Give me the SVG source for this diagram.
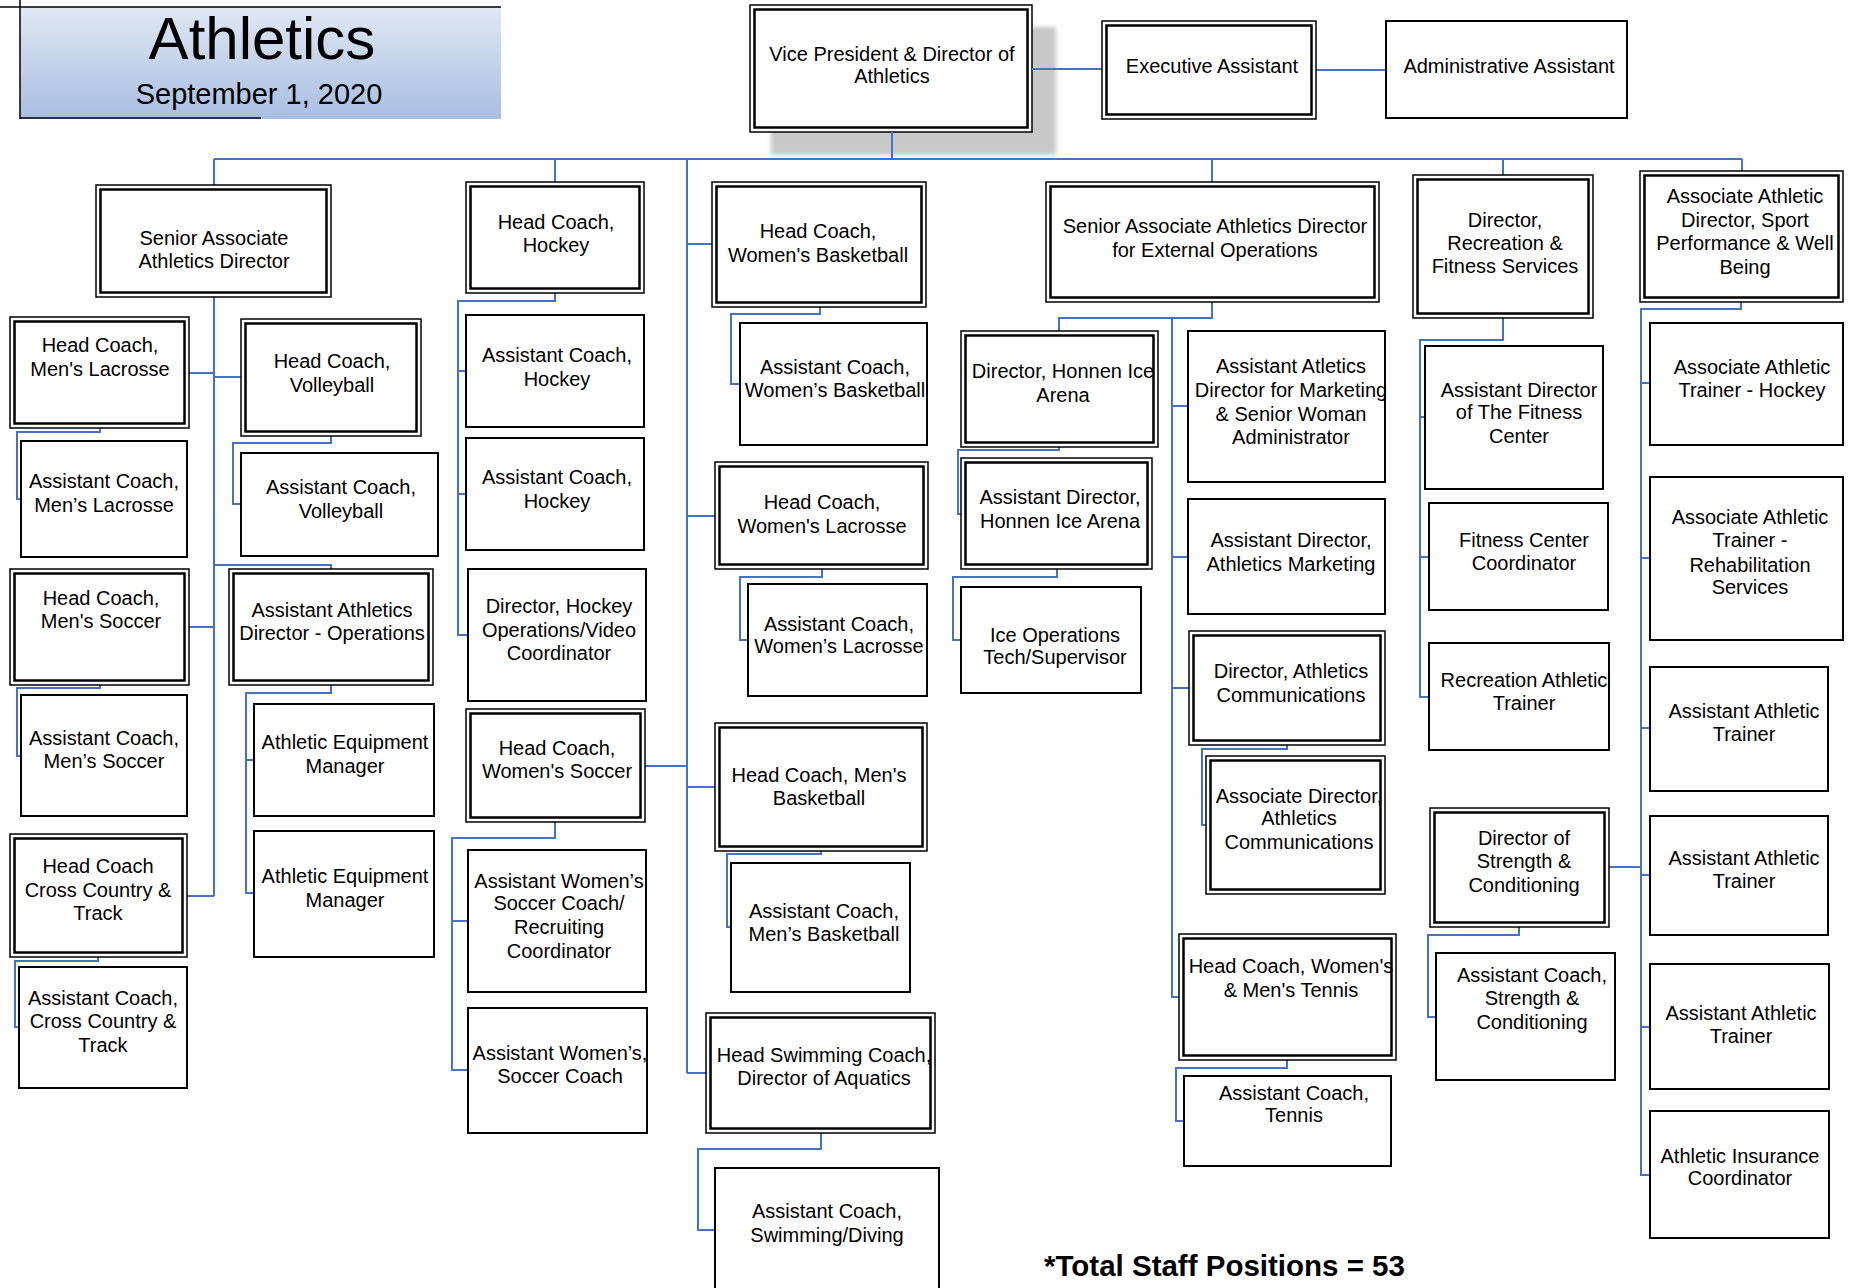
<svg xmlns="http://www.w3.org/2000/svg" width="1853" height="1288" viewBox="0 0 1853 1288">
<style>
.b{fill:#fff;stroke:#000;stroke-width:2}
.o{fill:#fff;stroke:#000;stroke-width:1.5}
.i{fill:none;stroke:#000;stroke-width:2.5}
.t{font-family:"Liberation Sans",Arial,sans-serif;font-size:20px;fill:#000;text-anchor:middle}
.c{fill:none;stroke:#4472C4;stroke-width:2}
</style>
<defs>
<linearGradient id="tg" x1="0" y1="0" x2="0" y2="1">
<stop offset="0" stop-color="#e0e8f4"/>
<stop offset="1" stop-color="#a8bee2"/>
</linearGradient>
<filter id="sh" x="-10%" y="-10%" width="120%" height="120%"><feGaussianBlur stdDeviation="2"/></filter>
</defs>
<rect width="1853" height="1288" fill="#fff"/>
<g id="title">
<rect x="20" y="7" width="481" height="112" fill="url(#tg)"/>
<path d="M0,7 H501 M20,0 V119 M20,118 H261" fill="none" stroke="#000" stroke-width="1.5"/>
<text x="262" y="59" style="font-family:'Liberation Sans',Arial,sans-serif;font-size:60px;text-anchor:middle">Athletics</text>
<text x="259" y="104" style="font-family:'Liberation Sans',Arial,sans-serif;font-size:29px;text-anchor:middle">September 1, 2020</text>
</g>
<g id="vp">
<rect x="771" y="27" width="285" height="128" fill="#c8c8c8" filter="url(#sh)"/>
<rect class="o" x="750" y="5" width="282" height="127"/><rect class="i" x="754.5" y="9.5" width="273" height="118"/>
<text class="t"><tspan x="892" y="61">Vice President &amp; Director of</tspan><tspan x="892" y="83">Athletics</tspan></text>
</g>
<g id="connectors">
<path class="c" d="M1032,69 H1102 M1316,70 H1386 M892,132 V159 M214,159 H1742 M214,159 V185 M555,159 V182 M687,159 V1073 M1212,159 V182 M1503,159 V175 M1742,159 V171"/>
<path class="c" d="M214,297 V896 M189,373 H214 M214,377 H241 M214,565 H331 V569 M189,627 H214 M187,896 H214"/>
<path class="c" d="M100,428 V432 H17 V499 H21 M100,685 V688 H17 V756 H21 M98,957 V961 H15 V1027 H19"/>
<path class="c" d="M331,436 V443 H233 V504 H241 M331,685 V693 H246 V893 H254 M246,760 H254"/>
<path class="c" d="M555,293 V301 H458 V635 H468 M458,371 H466 M458,494 H466"/>
<path class="c" d="M645,766 H687 M555,822 V838 H452 V1070 H468 M452,921 H468"/>
<path class="c" d="M687,244 H712 M687,516 H715 M687,787 H715 M687,1073 H706"/>
<path class="c" d="M820,307 V314 H731 V384 H740 M822,569 V577 H740 V640 H748 M821,851 V854 H727 V927 H731 M821,1133 V1149 H698 V1230 H715"/>
<path class="c" d="M1212,302 V318 H1059 V331 M1172,318 V997 H1179 M1172,406 H1188 M1172,557 H1188 M1172,688 H1189"/>
<path class="c" d="M1059,447 V450 H958 V514 H961 M1057,569 V577 H953 V640 H961 M1287,745 V749 H1202 V825 H1206 M1287,1060 V1068 H1176 V1121 H1184"/>
<path class="c" d="M1503,318 V340 H1420 V697 H1429 M1420,417 H1425 M1420,557 H1429 M1609,867 H1641 M1519,927 V935 H1428 V1017 H1436"/>
<path class="c" d="M1741,302 V309 H1641 V1175 H1650 M1641,383 H1650 M1641,558 H1650 M1641,728 H1650 M1641,875 H1650 M1641,1027 H1650"/>
</g>
<g id="exec"><rect class="o" x="1102" y="21" width="214" height="98"/><rect class="i" x="1106.5" y="25.5" width="205" height="89"/>
<text class="t" x="1212" y="73">Executive Assistant</text></g>
<g id="admin"><rect class="b" x="1386" y="21" width="241" height="97"/>
<text class="t" x="1509" y="73">Administrative Assistant</text></g>
<g id="sr-assoc"><rect class="o" x="96" y="185" width="235" height="112"/><rect class="i" x="100.5" y="189.5" width="226" height="103"/>
<text class="t"><tspan x="214" y="245">Senior Associate</tspan><tspan x="214" y="268">Athletics Director</tspan></text></g>
<g id="hc-hockey"><rect class="o" x="466" y="182" width="178" height="111"/><rect class="i" x="470.5" y="186.5" width="169" height="102"/>
<text class="t"><tspan x="556" y="229">Head Coach,</tspan><tspan x="556" y="252">Hockey</tspan></text></g>
<g id="hc-wbb"><rect class="o" x="712" y="182" width="214" height="125"/><rect class="i" x="716.5" y="186.5" width="205" height="116"/>
<text class="t"><tspan x="818" y="238">Head Coach,</tspan><tspan x="818" y="262">Women's Basketball</tspan></text></g>
<g id="sr-ext"><rect class="o" x="1046" y="182" width="333" height="120"/><rect class="i" x="1050.5" y="186.5" width="324" height="111"/>
<text class="t"><tspan x="1215" y="233">Senior Associate Athletics Director</tspan><tspan x="1215" y="257">for External Operations</tspan></text></g>
<g id="dir-rec"><rect class="o" x="1413" y="175" width="180" height="143"/><rect class="i" x="1417.5" y="179.5" width="171" height="134"/>
<text class="t"><tspan x="1505" y="227">Director,</tspan><tspan x="1505" y="250">Recreation &amp;</tspan><tspan x="1505" y="273">Fitness Services</tspan></text></g>
<g id="aad-sport"><rect class="o" x="1640" y="171" width="203" height="131"/><rect class="i" x="1644.5" y="175.5" width="194" height="122"/>
<text class="t"><tspan x="1745" y="203">Associate Athletic</tspan><tspan x="1745" y="227">Director, Sport</tspan><tspan x="1745" y="250">Performance &amp; Well</tspan><tspan x="1745" y="274">Being</tspan></text></g>
<g id="hc-mlax"><rect class="o" x="10" y="317" width="179" height="111"/><rect class="i" x="14.5" y="321.5" width="170" height="102"/>
<text class="t"><tspan x="100" y="352">Head Coach,</tspan><tspan x="100" y="376">Men's Lacrosse</tspan></text></g>
<g id="ac-mlax"><rect class="b" x="21" y="441" width="166" height="116"/>
<text class="t"><tspan x="104" y="488">Assistant Coach,</tspan><tspan x="104" y="512">Men’s Lacrosse</tspan></text></g>
<g id="hc-msoc"><rect class="o" x="10" y="569" width="179" height="116"/><rect class="i" x="14.5" y="573.5" width="170" height="107"/>
<text class="t"><tspan x="101" y="605">Head Coach,</tspan><tspan x="101" y="628">Men's Soccer</tspan></text></g>
<g id="ac-msoc"><rect class="b" x="21" y="695" width="166" height="121"/>
<text class="t"><tspan x="104" y="745">Assistant Coach,</tspan><tspan x="104" y="768">Men’s Soccer</tspan></text></g>
<g id="hc-cc"><rect class="o" x="10" y="834" width="177" height="123"/><rect class="i" x="14.5" y="838.5" width="168" height="114"/>
<text class="t"><tspan x="98" y="873">Head Coach</tspan><tspan x="98" y="897">Cross Country &amp;</tspan><tspan x="98" y="920">Track</tspan></text></g>
<g id="ac-cc"><rect class="b" x="19" y="967" width="168" height="121"/>
<text class="t"><tspan x="103" y="1005">Assistant Coach,</tspan><tspan x="103" y="1028">Cross Country &amp;</tspan><tspan x="103" y="1052">Track</tspan></text></g>
<g id="hc-vb"><rect class="o" x="241" y="319" width="180" height="117"/><rect class="i" x="245.5" y="323.5" width="171" height="108"/>
<text class="t"><tspan x="332" y="368">Head Coach,</tspan><tspan x="332" y="392">Volleyball</tspan></text></g>
<g id="ac-vb"><rect class="b" x="241" y="453" width="197" height="103"/>
<text class="t"><tspan x="341" y="494">Assistant Coach,</tspan><tspan x="341" y="518">Volleyball</tspan></text></g>
<g id="aad-ops"><rect class="o" x="229" y="569" width="204" height="116"/><rect class="i" x="233.5" y="573.5" width="195" height="107"/>
<text class="t"><tspan x="332" y="617">Assistant Athletics</tspan><tspan x="332" y="640">Director - Operations</tspan></text></g>
<g id="aem1"><rect class="b" x="254" y="704" width="180" height="112"/>
<text class="t"><tspan x="345" y="749">Athletic Equipment</tspan><tspan x="345" y="773">Manager</tspan></text></g>
<g id="aem2"><rect class="b" x="254" y="831" width="180" height="126"/>
<text class="t"><tspan x="345" y="883">Athletic Equipment</tspan><tspan x="345" y="907">Manager</tspan></text></g>
<g id="ac-hockey1"><rect class="b" x="466" y="315" width="178" height="112"/>
<text class="t"><tspan x="557" y="362">Assistant Coach,</tspan><tspan x="557" y="386">Hockey</tspan></text></g>
<g id="ac-hockey2"><rect class="b" x="466" y="438" width="178" height="112"/>
<text class="t"><tspan x="557" y="484">Assistant Coach,</tspan><tspan x="557" y="508">Hockey</tspan></text></g>
<g id="dir-hockey-ops"><rect class="b" x="468" y="569" width="178" height="132"/>
<text class="t"><tspan x="559" y="613">Director, Hockey</tspan><tspan x="559" y="637">Operations/Video</tspan><tspan x="559" y="660">Coordinator</tspan></text></g>
<g id="hc-wsoc"><rect class="o" x="466" y="709" width="179" height="113"/><rect class="i" x="470.5" y="713.5" width="170" height="104"/>
<text class="t"><tspan x="557" y="755">Head Coach,</tspan><tspan x="557" y="778">Women's Soccer</tspan></text></g>
<g id="aws-recruit"><rect class="b" x="468" y="850" width="178" height="142"/>
<text class="t"><tspan x="559" y="888">Assistant Women’s</tspan><tspan x="559" y="910">Soccer Coach/</tspan><tspan x="559" y="934">Recruiting</tspan><tspan x="559" y="958">Coordinator</tspan></text></g>
<g id="aws"><rect class="b" x="468" y="1008" width="179" height="125"/>
<text class="t"><tspan x="560" y="1060">Assistant Women’s,</tspan><tspan x="560" y="1083">Soccer Coach</tspan></text></g>
<g id="ac-wbb"><rect class="b" x="740" y="323" width="187" height="122"/>
<text class="t"><tspan x="835" y="374">Assistant Coach,</tspan><tspan x="835" y="397">Women’s Basketball</tspan></text></g>
<g id="hc-wlax"><rect class="o" x="715" y="462" width="213" height="107"/><rect class="i" x="719.5" y="466.5" width="204" height="98"/>
<text class="t"><tspan x="822" y="509">Head Coach,</tspan><tspan x="822" y="533">Women's Lacrosse</tspan></text></g>
<g id="ac-wlax"><rect class="b" x="748" y="584" width="179" height="112"/>
<text class="t"><tspan x="839" y="631">Assistant Coach,</tspan><tspan x="839" y="653">Women’s Lacrosse</tspan></text></g>
<g id="hc-mbb"><rect class="o" x="715" y="723" width="212" height="128"/><rect class="i" x="719.5" y="727.5" width="203" height="119"/>
<text class="t"><tspan x="819" y="782">Head Coach, Men's</tspan><tspan x="819" y="805">Basketball</tspan></text></g>
<g id="ac-mbb"><rect class="b" x="731" y="863" width="179" height="129"/>
<text class="t"><tspan x="824" y="918">Assistant Coach,</tspan><tspan x="824" y="941">Men’s Basketball</tspan></text></g>
<g id="hc-swim"><rect class="o" x="706" y="1013" width="229" height="120"/><rect class="i" x="710.5" y="1017.5" width="220" height="111"/>
<text class="t"><tspan x="824" y="1062">Head Swimming Coach,</tspan><tspan x="824" y="1085">Director of Aquatics</tspan></text></g>
<g id="ac-swim"><rect class="b" x="715" y="1168" width="224" height="132"/>
<text class="t"><tspan x="827" y="1218">Assistant Coach,</tspan><tspan x="827" y="1242">Swimming/Diving</tspan></text></g>
<g id="dir-honnen"><rect class="o" x="961" y="331" width="197" height="116"/><rect class="i" x="965.5" y="335.5" width="188" height="107"/>
<text class="t"><tspan x="1063" y="378">Director, Honnen Ice</tspan><tspan x="1063" y="402">Arena</tspan></text></g>
<g id="ad-honnen"><rect class="o" x="961" y="458" width="191" height="111"/><rect class="i" x="965.5" y="462.5" width="182" height="102"/>
<text class="t"><tspan x="1060" y="504">Assistant Director,</tspan><tspan x="1060" y="528">Honnen Ice Arena</tspan></text></g>
<g id="ice-ops"><rect class="b" x="961" y="587" width="180" height="106"/>
<text class="t"><tspan x="1055" y="642">Ice Operations</tspan><tspan x="1055" y="664">Tech/Supervisor</tspan></text></g>
<g id="aad-mkt"><rect class="b" x="1188" y="331" width="197" height="151"/>
<text class="t"><tspan x="1291" y="373">Assistant Atletics</tspan><tspan x="1291" y="397">Director for Marketing</tspan><tspan x="1291" y="421">&amp; Senior Woman</tspan><tspan x="1291" y="444">Administrator</tspan></text></g>
<g id="ad-mkt"><rect class="b" x="1188" y="499" width="197" height="115"/>
<text class="t"><tspan x="1291" y="547">Assistant Director,</tspan><tspan x="1291" y="571">Athletics Marketing</tspan></text></g>
<g id="dir-comms"><rect class="o" x="1189" y="631" width="196" height="114"/><rect class="i" x="1193.5" y="635.5" width="187" height="105"/>
<text class="t"><tspan x="1291" y="678">Director, Athletics</tspan><tspan x="1291" y="702">Communications</tspan></text></g>
<g id="assoc-comms"><rect class="o" x="1206" y="756" width="179" height="138"/><rect class="i" x="1210.5" y="760.5" width="170" height="129"/>
<text class="t"><tspan x="1299" y="803">Associate Director,</tspan><tspan x="1299" y="825">Athletics</tspan><tspan x="1299" y="849">Communications</tspan></text></g>
<g id="hc-tennis"><rect class="o" x="1179" y="934" width="217" height="126"/><rect class="i" x="1183.5" y="938.5" width="208" height="117"/>
<text class="t"><tspan x="1291" y="973">Head Coach, Women's</tspan><tspan x="1291" y="997">&amp; Men's Tennis</tspan></text></g>
<g id="ac-tennis"><rect class="b" x="1184" y="1076" width="207" height="90"/>
<text class="t"><tspan x="1294" y="1100">Assistant Coach,</tspan><tspan x="1294" y="1122">Tennis</tspan></text></g>
<g id="ad-fitness"><rect class="b" x="1425" y="346" width="178" height="143"/>
<text class="t"><tspan x="1519" y="397">Assistant Director</tspan><tspan x="1519" y="419">of The Fitness</tspan><tspan x="1519" y="443">Center</tspan></text></g>
<g id="fitness-coord"><rect class="b" x="1429" y="503" width="179" height="107"/>
<text class="t"><tspan x="1524" y="547">Fitness Center</tspan><tspan x="1524" y="570">Coordinator</tspan></text></g>
<g id="rec-at"><rect class="b" x="1429" y="643" width="180" height="107"/>
<text class="t"><tspan x="1524" y="687">Recreation Athletic</tspan><tspan x="1524" y="710">Trainer</tspan></text></g>
<g id="dir-sc"><rect class="o" x="1430" y="808" width="179" height="119"/><rect class="i" x="1434.5" y="812.5" width="170" height="110"/>
<text class="t"><tspan x="1524" y="845">Director of</tspan><tspan x="1524" y="868">Strength &amp;</tspan><tspan x="1524" y="892">Conditioning</tspan></text></g>
<g id="ac-sc"><rect class="b" x="1436" y="953" width="179" height="127"/>
<text class="t"><tspan x="1532" y="982">Assistant Coach,</tspan><tspan x="1532" y="1005">Strength &amp;</tspan><tspan x="1532" y="1029">Conditioning</tspan></text></g>
<g id="aat-hockey"><rect class="b" x="1650" y="323" width="193" height="122"/>
<text class="t"><tspan x="1752" y="374">Associate Athletic</tspan><tspan x="1752" y="397">Trainer - Hockey</tspan></text></g>
<g id="aat-rehab"><rect class="b" x="1650" y="477" width="193" height="163"/>
<text class="t"><tspan x="1750" y="524">Associate Athletic</tspan><tspan x="1750" y="547">Trainer -</tspan><tspan x="1750" y="572">Rehabilitation</tspan><tspan x="1750" y="594">Services</tspan></text></g>
<g id="at1"><rect class="b" x="1650" y="667" width="178" height="124"/>
<text class="t"><tspan x="1744" y="718">Assistant Athletic</tspan><tspan x="1744" y="741">Trainer</tspan></text></g>
<g id="at2"><rect class="b" x="1650" y="816" width="178" height="119"/>
<text class="t"><tspan x="1744" y="865">Assistant Athletic</tspan><tspan x="1744" y="888">Trainer</tspan></text></g>
<g id="at3"><rect class="b" x="1650" y="964" width="179" height="125"/>
<text class="t"><tspan x="1741" y="1020">Assistant Athletic</tspan><tspan x="1741" y="1043">Trainer</tspan></text></g>
<g id="insurance"><rect class="b" x="1650" y="1111" width="179" height="127"/>
<text class="t"><tspan x="1740" y="1163">Athletic Insurance</tspan><tspan x="1740" y="1185">Coordinator</tspan></text></g>
<text x="1044" y="1276" style="font-family:'Liberation Sans',Arial,sans-serif;font-size:29.5px;font-weight:bold">*Total Staff Positions = 53</text>
</svg>
